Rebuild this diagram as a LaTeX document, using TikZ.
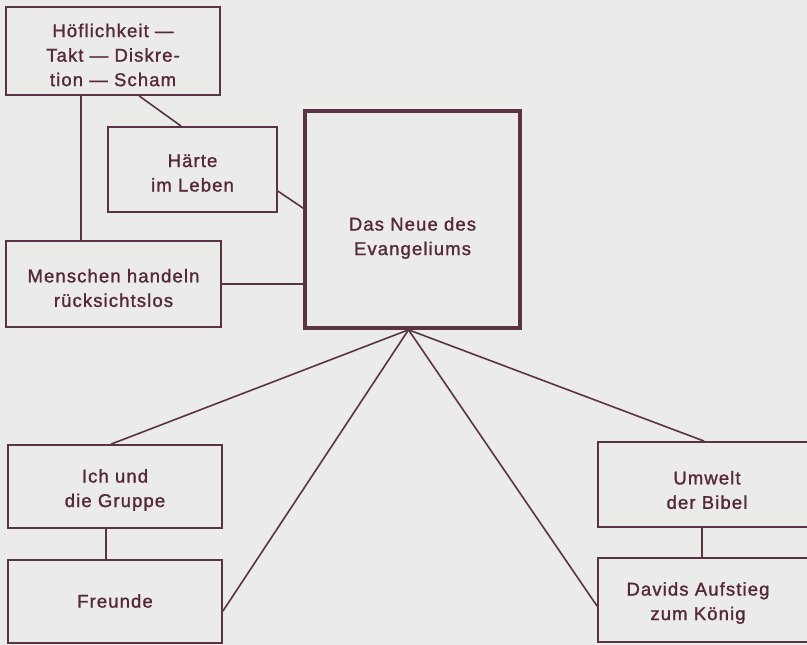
\documentclass[tikz,border=0pt]{standalone}
\usepackage{fontspec}
\setmainfont{Liberation Sans}[LetterSpace=6, FakeBold=1.3]
\usetikzlibrary{calc}
\definecolor{ink}{HTML}{5A3444}
\definecolor{txt}{HTML}{55283A}
\definecolor{paper}{HTML}{EBEBE9}
\begin{document}
\begin{tikzpicture}[x=1pt,y=-1pt,
  box/.style={draw=ink, line width=1.8pt, rectangle, inner sep=0pt},
  bigbox/.style={draw=ink, line width=3.6pt, rectangle, inner sep=0pt},
  lbl/.style={text=txt, align=center, inner sep=0pt, font=\fontsize{18.5}{24.5}\selectfont},
  conn/.style={draw=ink, line width=1.6pt}]
\useasboundingbox (0,0) rectangle (807,645);
\clip (0,0) rectangle (807,645);
\fill[paper] (0,0) rectangle (807,645);

\node[box, minimum width=214pt, minimum height=88pt] (hof) at (113,51) {};
\node[lbl] (hoft) at (113,55) {Höflichkeit —\\Takt — Diskre-\\tion — Scham};

\node[box, minimum width=169pt, minimum height=85pt] (haerte) at (192.5,169.5) {};
\node[lbl] (haertet) at (192.5,173) {Härte\\im Leben};

\node[box, minimum width=215pt, minimum height=86pt] (men) at (113.5,284) {};
\node[lbl] (ment) at (113.5,288) {Menschen handeln\\rücksichtslos};

\node[bigbox, minimum width=215pt, minimum height=217pt] (big) at (412.5,219.5) {};
\node[lbl] (bigt) at (412.5,238) {Das Neue des\\Evangeliums};

\node[box, minimum width=214pt, minimum height=83pt] (ich) at (115,486.5) {};
\node[lbl] (icht) at (115,490) {Ich und\\die Gruppe};

\node[box, minimum width=214pt, minimum height=83pt] (freu) at (115,601.5) {};
\node[lbl] (freut) at (115,601) {Freunde};

\node[box, minimum width=214pt, minimum height=85pt] (umw) at (705,484.5) {};
\node[lbl] (umwt) at (707,490) {Umwelt\\der Bibel};

\node[box, minimum width=214pt, minimum height=84pt] (dav) at (705,600) {};
\node[lbl] (davt) at (698,603) {Davids Aufstieg\\zum König};

\draw[conn] ($(hof.south west)+(134,0)$) -- ($(haerte.north west)+(74,0)$);
\draw[conn] ($(hof.south west)+(76,0)$) -- ($(men.north west)+(76,0)$);
\draw[conn] ($(haerte.north east)+(0,65)$) -- ($(big.north west)+(0,99)$);
\draw[conn] (men.east) -- (men.east -| big.west);
\coordinate (fan) at ($(big.south)+(-4,0)$);
\draw[conn] (fan) -- ($(ich.north west)+(104,0)$);
\draw[conn] (fan) -- ($(freu.north east)+(0,52)$);
\draw[conn] (fan) -- ($(umw.north west)+(107,0)$);
\draw[conn] (fan) -- ($(dav.north west)+(0,49)$);
\draw[conn] ($(ich.south west)+(99,0)$) -- ($(freu.north west)+(99,0)$);
\draw[conn] ($(umw.south west)+(105,0)$) -- ($(dav.north west)+(105,0)$);
\end{tikzpicture}
\end{document}
